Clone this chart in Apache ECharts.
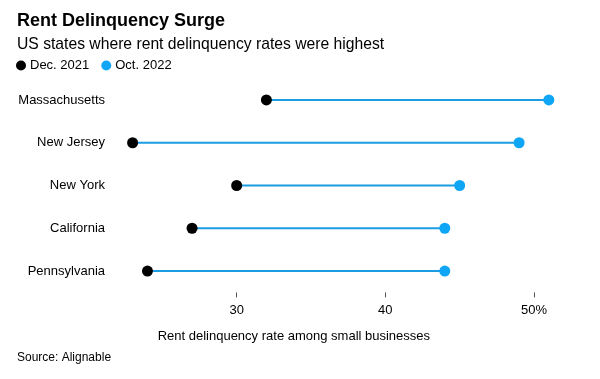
<!DOCTYPE html>
<html><head><meta charset="utf-8">
<script src="https://cdn.jsdelivr.net/npm/echarts@6/dist/echarts.min.js"></script>
<style>html,body{margin:0;padding:0;background:#fff}#c{width:600px;height:379px}</style>
</head><body><div id="c"></div>
<script>
const states = ["Massachusetts", "New Jersey", "New York", "California", "Pennsylvania"];
const dec2021 = [32, 23, 30, 27, 24];
const oct2022 = [51, 49, 45, 44, 44];
const tickValues = [30, 40, 50];
const seriesNames = ["Dec. 2021", "Oct. 2022"];

const FONT = '"Liberation Sans", Arial, sans-serif';
const chart = echarts.init(document.getElementById('c'), null, {renderer: 'canvas'});
chart.setOption({
  animation: false,
  backgroundColor: '#fff',
  textStyle: {fontFamily: FONT},
  title: [
    {text: 'Rent Delinquency Surge', left: 12, top: 7,
     textStyle: {fontFamily: FONT, fontSize: 18, fontWeight: 'bold', color: '#000'}},
    {text: 'US states where rent delinquency rates were highest', left: 12, top: 32,
     textStyle: {fontFamily: FONT, fontSize: 15.7, fontWeight: 'normal', color: '#000'}},
    {text: 'Source: Alignable', left: 12, top: 347,
     textStyle: {fontFamily: FONT, fontSize: 12, fontWeight: 'normal', color: '#000'}}
  ],
  legend: {
    left: 11, top: 54, itemWidth: 10, itemHeight: 10, itemGap: 12,
    icon: 'circle',
    data: seriesNames,
    textStyle: {fontFamily: FONT, fontSize: 13, color: '#000', padding: [0, 0, 0, -1]}
  },
  grid: {left: 88, right: 36.3, top: 78.6, bottom: 86.6, containLabel: false},
  xAxis: {
    type: 'value', min: 20, max: 52, interval: 10,
    splitLine: {show: false},
    axisLine: {show: false},
    axisTick: {show: true, customValues: tickValues, length: 5, inside: false,
               lineStyle: {color: '#555', width: 1}},
    axisLabel: {customValues: tickValues, margin: 12,
                formatter: v => v === 50 ? v + '%' : String(v),
                fontFamily: FONT, fontSize: 13, color: '#000'},
    name: 'Rent delinquency rate among small businesses',
    nameLocation: 'middle', nameGap: 38,
    nameTextStyle: {fontFamily: FONT, fontSize: 13, color: '#000', padding: [0, 64, 0, 0]}
  },
  yAxis: {
    type: 'category', data: states, inverse: true,
    axisLine: {show: false}, axisTick: {show: false}, splitLine: {show: false},
    axisLabel: {margin: -17, fontFamily: FONT, fontSize: 13, color: '#000'}
  },
  series: [
    {
      type: 'custom', name: 'range', silent: true, z: 1,
      data: states.map((s, i) => [dec2021[i], oct2022[i], i]),
      encode: {x: [0, 1], y: 2},
      renderItem: function (params, api) {
        const a = api.coord([api.value(0), api.value(2)]);
        const b = api.coord([api.value(1), api.value(2)]);
        return {type: 'line', shape: {x1: a[0], y1: a[1], x2: b[0], y2: b[1]},
                style: {stroke: '#1a9de2', lineWidth: 2}};
      }
    },
    {
      type: 'scatter', name: seriesNames[0], z: 3, symbolSize: 11,
      itemStyle: {color: '#000', opacity: 1},
      data: states.map((s, i) => [dec2021[i], s])
    },
    {
      type: 'scatter', name: seriesNames[1], z: 3, symbolSize: 11,
      itemStyle: {color: '#0fa6f5', opacity: 1},
      data: states.map((s, i) => [oct2022[i], s])
    }
  ]
});
</script></body></html>
